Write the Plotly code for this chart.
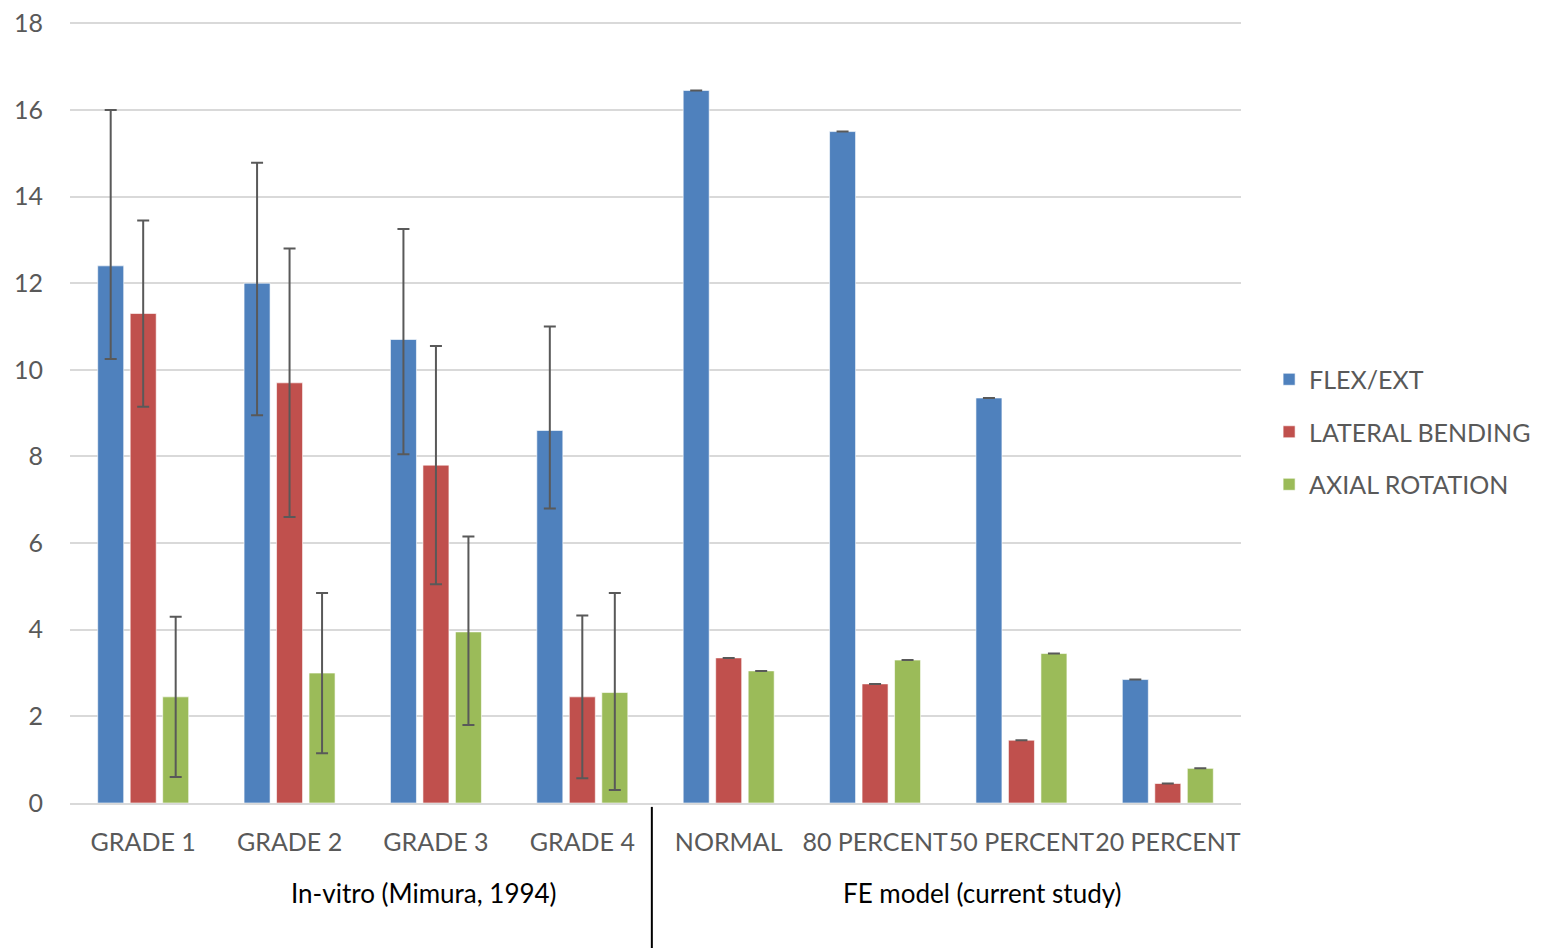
import plotly.graph_objects as go

categories = ["GRADE 1", "GRADE 2", "GRADE 3", "GRADE 4",
              "NORMAL", "80 PERCENT", "50 PERCENT", "20 PERCENT"]
groups = ["In-vitro (Mimura, 1994)", "FE model (current study)"]

flex_ext = [12.4, 12.0, 10.7, 8.6, 16.45, 15.5, 9.35, 2.85]
flex_plus = [3.6, 2.78, 2.55, 2.4, 0, 0, 0, 0]
flex_minus = [2.15, 3.05, 2.65, 1.8, 0, 0, 0, 0]

lateral = [11.3, 9.7, 7.8, 2.45, 3.35, 2.75, 1.45, 0.45]
lateral_err = [2.15, 3.1, 2.75, 1.88, 0, 0, 0, 0]

axial = [2.45, 3.0, 3.95, 2.55, 3.05, 3.3, 3.45, 0.8]
axial_plus = [1.85, 1.85, 2.2, 2.3, 0, 0, 0, 0]
axial_minus = [1.85, 1.85, 2.15, 2.25, 0, 0, 0, 0]

series_names = ["FLEX/EXT", "LATERAL BENDING", "AXIAL ROTATION"]
colors = ["#4F81BD", "#C0504D", "#9BBB59"]

FONT = "Lato"
GREY = "#595959"

fig = go.Figure()
data = [
    (flex_ext, flex_plus, flex_minus),
    (lateral, lateral_err, lateral_err),
    (axial, axial_plus, axial_minus),
]
for (vals, ep, em), name, col in zip(data, series_names, colors):
    fig.add_trace(go.Bar(
        x=categories, y=vals, name=name, legendgroup=name,
        marker=dict(color=col, line=dict(color="rgba(255,255,255,0.6)", width=1)),
        error_y=dict(type="data", symmetric=False, array=ep, arrayminus=em,
                     color=GREY, thickness=2, width=6),
    ))

# page body has an 8px margin, so the figure is sized / offset to compensate
fig.update_layout(
    width=1533, height=940,
    margin=dict(l=62, r=300, t=14, b=145, autoexpand=False),
    paper_bgcolor="white", plot_bgcolor="white",
    barmode="group", bargap=0.334, bargroupgap=0.2,
    font=dict(family=FONT, size=25, color=GREY),
    showlegend=True,
    legend=dict(x=1.024, y=0.475, xanchor="left", yanchor="middle",
                font=dict(family=FONT, size=25, color=GREY),
                tracegroupgap=17, itemwidth=30),
    xaxis=dict(type="category", showgrid=False, showline=True,
               linecolor="#D9D9D9", linewidth=2, ticks="", automargin=False,
               ticklabelstandoff=16, tickangle=0,
               tickfont=dict(family=FONT, size=25, color=GREY)),
    yaxis=dict(range=[0, 18.03], dtick=2, showgrid=True, gridcolor="#D9D9D9",
               gridwidth=2, zeroline=False, showline=False, ticks="", automargin=False,
               ticklabeloverflow="allow",
               tickfont=dict(family=FONT, size=25, color=GREY), ticklabelstandoff=26),
)

# group labels (positioned as in the original chart)
for xc, label in zip([1.918, 5.736], groups):
    fig.add_annotation(x=xc, y=-0.115, xref="x", yref="paper", text=label,
                       showarrow=False, font=dict(family=FONT, size=26, color="#000000"),
                       yanchor="middle")
# group divider
fig.add_shape(type="line", x0=3.475, x1=3.475, xref="x", y0=-0.005, y1=-0.2,
              yref="paper", line=dict(color="black", width=2))

fig.write_html("out.html")
